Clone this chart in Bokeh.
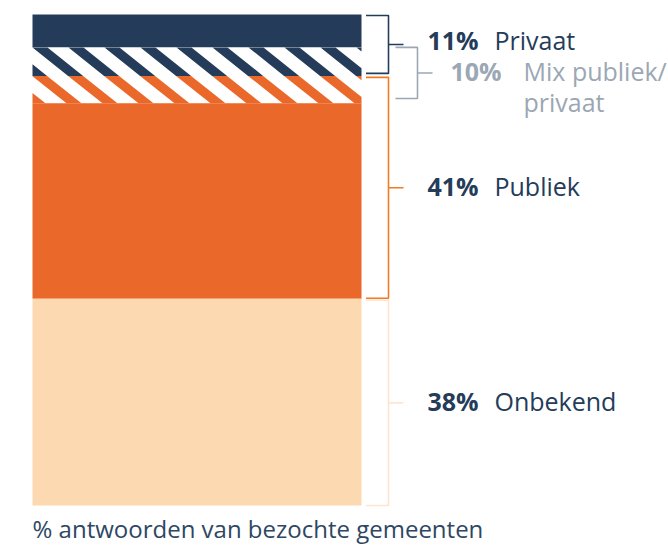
from bokeh.plotting import figure
from bokeh.models import Range1d
from bokeh.core.properties import value
from bokeh.embed import file_html
from bokeh.resources import INLINE

# ---------------- data ----------------
# visual stack, top to bottom (% of bar height)
segment_names = ["Privaat", "Mix (privaat)", "Mix (publiek)", "Publiek", "Onbekend"]
segment_pct = [6.7, 5.8, 5.6, 39.8, 42.1]

# annotated shares
label_pct = [11, 10, 41, 38]
label_names = ["Privaat", "Mix publiek/\nprivaat", "Publiek", "Onbekend"]
# bracket extents (% of bar height)
bracket_top = [99.8, 93.3, 87.2, 41.8]
bracket_bottom = [88.0, 82.9, 42.2, 0.0]

caption = "% antwoorden van bezochte gemeenten"

# ---------------- styles / layout ----------------
NAVY = "#243c59"
ORANGE = "#ea692a"
PEACH = "#fdd9b1"
GRAY = "#9ba7b4"
segment_fill = [NAVY, "white", "white", ORANGE, PEACH]
bracket_colors = [NAVY, GRAY, "#f27a22", "#fde3d1"]
pct_colors = [NAVY, GRAY, NAVY, NAVY]
name_colors = [NAVY, GRAY, NAVY, NAVY]

W, H = 668, 547
PX_PER_PCT = 4.91
Y_MAX = 100 + 14 / PX_PER_PCT
Y_MIN = Y_MAX - H / PX_PER_PCT

BAR_L, BAR_R = 32, 361
FONT = "Open Sans"
FS = "25px"
TEXT_FIX = 9  # px, compensates baseline placement


def py(px_from_top):
    return Y_MAX - px_from_top / PX_PER_PCT


p = figure(width=W, height=H, output_backend="svg", toolbar_location=None,
           x_range=Range1d(0, W), y_range=Range1d(Y_MIN, Y_MAX),
           min_border=0, outline_line_color=None,
           background_fill_color="white", border_fill_color="white")
p.xaxis.visible = False
p.yaxis.visible = False
p.xgrid.visible = False
p.ygrid.visible = False

# stacked segments
tops, bottoms = [], []
cur = 100.0
for v in segment_pct:
    tops.append(cur)
    bottoms.append(cur - v)
    cur -= v
p.quad(left=[BAR_L] * len(segment_pct), right=[BAR_R] * len(segment_pct),
       top=tops, bottom=bottoms, fill_color=segment_fill, line_color=None)

# diagonal stripes in the mixed part
band_top = tops[1]
band_mid = bottoms[1]
band_bot = bottoms[2]
Hpx = (band_top - band_bot) * PX_PER_PCT
Hmid = (band_top - band_mid) * PX_PER_PCT
PERIOD, SW, SHIFT = 36.0, 15.0, 1.25


def clip(poly, a, b, c):
    out = []
    n = len(poly)
    for i in range(n):
        P = poly[i]
        Q = poly[(i + 1) % n]
        fp = a * P[0] + b * P[1] - c
        fq = a * Q[0] + b * Q[1] - c
        if fp <= 0:
            out.append(P)
        if fp * fq < 0:
            t = fp / (fp - fq)
            out.append((P[0] + t * (Q[0] - P[0]), P[1] + t * (Q[1] - P[1])))
    return out


navy_xs, navy_ys, or_xs, or_ys = [], [], [], []
kmin = -int(Hpx * SHIFT / PERIOD) - 2
kmax = int((BAR_R - BAR_L) / PERIOD) + 2
for k in range(kmin, kmax):
    x0 = BAR_L + k * PERIOD
    poly = [(x0, 0), (x0 + SW, 0), (x0 + SW + Hpx * SHIFT, Hpx), (x0 + Hpx * SHIFT, Hpx)]
    poly = clip(poly, -1, 0, -BAR_L)
    poly = clip(poly, 1, 0, BAR_R)
    if len(poly) < 3:
        continue
    up = clip(poly, 0, 1, Hmid)
    lo = clip(poly, 0, -1, -Hmid)
    if len(up) >= 3:
        navy_xs.append([q[0] for q in up])
        navy_ys.append([band_top - q[1] / PX_PER_PCT for q in up])
    if len(lo) >= 3:
        or_xs.append([q[0] for q in lo])
        or_ys.append([band_top - q[1] / PX_PER_PCT for q in lo])
p.patches(navy_xs, navy_ys, fill_color=NAVY, line_color=None)
p.patches(or_xs, or_ys, fill_color=ORANGE, line_color=None)

# brackets
HX0 = [365.5, 395, 365.5, 365.5]
VX = [388, 417, 388, 388]
TX = [403, 432, 403, 403]
PCT_X = [427, 450, 427, 427]
NAME_X = [494, 523, 494, 494]
LABEL_DY = [5, 7, 7, 7]

for i in range(len(label_pct)):
    t, b = bracket_top[i], bracket_bottom[i]
    mid = (t + b) / 2
    p.line([HX0[i], VX[i], VX[i], HX0[i]], [t, t, b, b],
           line_color=bracket_colors[i], line_width=1.6)
    p.line([VX[i], TX[i]], [mid, mid], line_color=bracket_colors[i], line_width=1.6)
    base = mid - (LABEL_DY[i] - TEXT_FIX) / PX_PER_PCT
    p.text(x=[PCT_X[i]], y=[base], text=[f"{label_pct[i]}%"],
           text_font=value(FONT), text_font_size=FS, text_font_style="bold",
           text_color=pct_colors[i], text_baseline="alphabetic")
    for j, line in enumerate(label_names[i].split("\n")):
        p.text(x=[NAME_X[i]], y=[base - j * 31 / PX_PER_PCT], text=[line],
               text_font=value(FONT), text_font_size=FS,
               text_color=name_colors[i], text_baseline="alphabetic")

# caption
p.text(x=[32], y=[py(537 - TEXT_FIX)], text=[caption], text_font=value(FONT),
       text_font_size="24px", text_color="#2e4763", text_baseline="alphabetic")

open("out.html", "w").write(file_html(p, INLINE))
